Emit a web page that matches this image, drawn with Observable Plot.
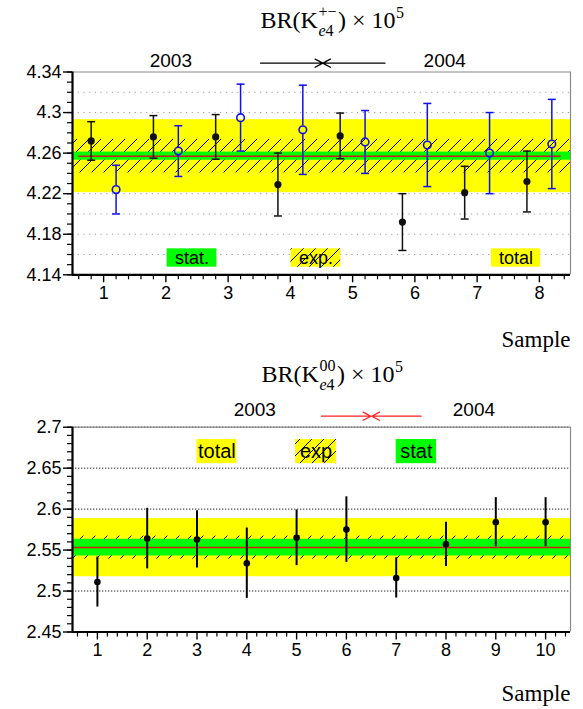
<!DOCTYPE html>
<html><head><meta charset="utf-8">
<script src="https://cdn.jsdelivr.net/npm/d3@7"></script>
<script src="https://cdn.jsdelivr.net/npm/@observablehq/plot@0.6"></script>
<style>
body{margin:0;background:#fff;}
#wrap{width:583px;}
#wrap svg{display:block;overflow:visible;}
</style></head><body><div id="wrap"></div>
<script>
// ---------- DATA: BR(K+- e4) ----------
const samplesPM = [1, 2, 3, 4, 5, 6, 7, 8];
const brPM2003 = [4.272, 4.276, 4.276, 4.229, 4.277, 4.192, 4.221, 4.232];
const errPM2003 = [0.019, 0.021, 0.022, 0.031, 0.0225, 0.028, 0.026, 0.030];
const brPM2004 = [4.224, 4.262, 4.295, 4.283, 4.271, 4.268, 4.260, 4.269];
const errPM2004 = [0.024, 0.025, 0.033, 0.044, 0.031, 0.041, 0.040, 0.044];
const meanPM = 4.257;
const halfStatPM = 0.004, halfExpPM = 0.0165, halfTotPM = 0.036;
const fitRangePM = [0.6, 8.35];
const yTicksPM = [4.14, 4.18, 4.22, 4.26, 4.30, 4.34];
const yTickLabelsPM = ["4.14", "4.18", "4.22", "4.26", "4.3", "4.34"];
const gridPM = [4.16, 4.18, 4.20, 4.22, 4.24, 4.26, 4.28, 4.30, 4.32];
const legendPM = [
  {label: "stat.", kind: "stat", x1: 2.02, x2: 2.82, y1: 4.1475, y2: 4.1656},
  {label: "exp.", kind: "exp", x1: 4.01, x2: 4.81, y1: 4.1475, y2: 4.1656},
  {label: "total", kind: "total", x1: 7.23, x2: 8.02, y1: 4.1475, y2: 4.1656}
];
const yearsPM = [{text: "2003", x: 2.08, y: 4.3513}, {text: "2004", x: 6.48, y: 4.3513}];
const arrowsPM = [{x1: 3.52, x2: 4.52, y: 4.3487}, {x1: 5.52, x2: 4.52, y: 4.3487}];

// ---------- DATA: BR(K00 e4) ----------
const samples00 = [1, 2, 3, 4, 5, 6, 7, 8, 9, 10];
const br00 = [2.511, 2.564, 2.563, 2.534, 2.565, 2.575, 2.516, 2.557, 2.584, 2.584];
const err00 = [0.0305, 0.037, 0.035, 0.043, 0.034, 0.040, 0.0245, 0.027, 0.030, 0.030];
const mean00 = 2.553;
const halfStat00 = 0.0102, halfExp00 = 0.014, halfTot00 = 0.0355;
const yTicks00 = [2.45, 2.5, 2.55, 2.6, 2.65, 2.7];
const yTickLabels00 = ["2.45", "2.5", "2.55", "2.6", "2.65", "2.7"];
const grid00 = [2.5, 2.55, 2.6, 2.65, 2.7];
const legend00 = [
  {label: "total", kind: "total", x1: 3.0, x2: 3.8, y1: 2.6555, y2: 2.685},
  {label: "exp", kind: "exp", x1: 4.98, x2: 5.8, y1: 2.6555, y2: 2.685},
  {label: "stat", kind: "stat", x1: 7.0, x2: 7.81, y1: 2.6555, y2: 2.685}
];
const years00 = [{text: "2003", x: 4.16, y: 2.7212}, {text: "2004", x: 8.56, y: 2.7212}];
const arrows00 = [{x1: 5.50, x2: 6.49, y: 2.7134}, {x1: 7.50, x2: 6.51, y: 2.7134}];

// ---------- helpers ----------
const SANS = "'Liberation Sans', Arial, Helvetica, sans-serif";
const SERIF = "'Liberation Serif', 'Times New Roman', serif";
const capSymbol = {draw(ctx) { ctx.moveTo(-4, 0); ctx.lineTo(4, 0); }};
const kindFill = {stat: "#00ff00", exp: "#ffff00", total: "#ffff00"};

function addHatch(svg, id) {
  const defs = d3.select(svg).insert("defs", ":first-child");
  const p = defs.append("pattern").attr("id", id).attr("patternUnits", "userSpaceOnUse")
    .attr("width", 12).attr("height", 12);
  p.append("path").attr("d", "M-3,3 L3,-3 M0,12 L12,0 M9,15 L15,9")
    .attr("stroke", "black").attr("stroke-width", 1).attr("fill", "none");
}

function mathTitle(svg, cx, base, sup, sub) {
  const g = d3.select(svg).append("g").attr("font-family", SERIF).attr("fill", "black")
    .attr("text-anchor", "start");
  let x = 0;
  const put = (txt, dx, dy, size) => {
    const t = g.append("text").attr("text-anchor", "start").attr("x", x + dx).attr("y", base + dy)
      .attr("font-size", size).text(txt);
    return t.node().getComputedTextLength();
  };
  x += put("BR(K", 0, 0, 24);
  const wSup = put(sup, 0.5, -11, 16);
  const t = g.append("text").attr("text-anchor", "start").attr("x", x + 0.5).attr("y", base + 8).attr("font-size", 16);
  t.append("tspan").attr("font-style", "italic").text(sub[0]);
  t.append("tspan").text(sub.slice(1));
  const wSub = t.node().getComputedTextLength();
  x += Math.max(wSup, wSub) + 2;
  x += put(") \u00d7 10", 0, 0, 24);
  x += put("5", 0.5, -10, 16);
  g.attr("transform", `translate(${cx - x / 2},0)`);
}

function panel(o) {
  const [xa, xb] = o.xDomain, [ya, yb] = o.yDomain;
  const marks = [];
  marks.push(Plot.ruleY(o.grid, {stroke: o.gridColor, strokeDasharray: o.gridDash, strokeWidth: 1}));
  const band = [{mean: o.mean, stat: o.stat, exp: o.exp, tot: o.tot}];
  marks.push(Plot.rect(band, {x1: xa, x2: xb, y1: d => d.mean - d.tot, y2: d => d.mean + d.tot, fill: "#ffff00"}));
  marks.push(Plot.rect(band, {x1: xa, x2: xb, y1: d => d.mean - d.exp, y2: d => d.mean + d.exp, fill: `url(#${o.hatchId})`}));
  marks.push(Plot.rect(band, {x1: xa, x2: xb, y1: d => d.mean - d.stat, y2: d => d.mean + d.stat, fill: "#00ff00"}));
  marks.push(Plot.ruleY(band, {y: "mean", x1: o.fitRange[0], x2: o.fitRange[1], stroke: "#d41a1a", strokeWidth: 1.5}));
  // legend boxes
  marks.push(Plot.rect(o.legend, {x1: "x1", x2: "x2", y1: "y1", y2: "y2", fill: d => kindFill[d.kind]}));
  marks.push(Plot.rect(o.legend.filter(d => d.kind === "exp"), {x1: "x1", x2: "x2", y1: "y1", y2: "y2", fill: `url(#${o.hatchId})`}));
  marks.push(Plot.text(o.legend, {x: d => (d.x1 + d.x2) / 2, y: d => (d.y1 + d.y2) / 2, text: "label", fontSize: o.legendFont, fill: "black"}));
  // series
  o.series.forEach(s => {
    const data = s.x.map((v, i) => ({x: v + s.dx, y: s.y[i], e: s.e[i]}));
    if (s.open) {
      marks.push(Plot.ruleX(data, {x: "x", y1: d => d.y + d.e, y2: "y", insetBottom: s.r, stroke: s.color, strokeWidth: s.sw}));
      marks.push(Plot.ruleX(data, {x: "x", y1: "y", y2: d => d.y - d.e, insetTop: s.r, stroke: s.color, strokeWidth: s.sw}));
    } else {
      marks.push(Plot.ruleX(data, {x: "x", y1: d => d.y - d.e, y2: d => d.y + d.e, stroke: s.color, strokeWidth: s.sw}));
    }
    if (s.caps) {
      marks.push(Plot.dot(data, {x: "x", y: d => d.y - d.e, symbol: capSymbol, stroke: s.color, fill: "none", strokeWidth: s.sw}));
      marks.push(Plot.dot(data, {x: "x", y: d => d.y + d.e, symbol: capSymbol, stroke: s.color, fill: "none", strokeWidth: s.sw}));
    }
    if (s.open) marks.push(Plot.dot(data, {x: "x", y: "y", r: s.r, stroke: s.color, fill: "none", strokeWidth: 1.6}));
    else marks.push(Plot.dot(data, {x: "x", y: "y", r: s.r, fill: s.color, stroke: "none"}));
  });
  // year labels and arrows
  marks.push(Plot.text(o.years, {x: "x", y: "y", text: "text", fontSize: 19, fill: "black"}));
  marks.push(Plot.arrow(o.arrows, {x1: "x1", x2: "x2", y1: "y", y2: "y", stroke: o.arrowColor, strokeWidth: 1.3, headLength: 10, headAngle: 56}));
  // frame
  marks.push(Plot.ruleY([yb], {stroke: "#8a8a8a", strokeWidth: 1.2}));
  marks.push(Plot.ruleX([xb], {stroke: "#8a8a8a", strokeWidth: 1.2}));
  marks.push(Plot.ruleX([xa], {stroke: "black", strokeWidth: 2.2}));
  marks.push(Plot.ruleY([ya], {stroke: "black", strokeWidth: 2.2}));
  // axes
  marks.push(Plot.axisY({ticks: o.yMinor, tickSize: 5, tickFormat: () => "", strokeWidth: 1.2, label: null}));
  marks.push(Plot.axisY({ticks: o.yTicks, tickSize: 9, tickPadding: 2, strokeWidth: 1.4, fontSize: 18, label: null,
    tickFormat: d => o.yLabels[o.yTicks.findIndex(t => Math.abs(t - d) < 1e-9)]}));
  marks.push(Plot.axisX({ticks: o.xMinor, tickSize: 5, tickFormat: () => "", strokeWidth: 1.2, label: null}));
  marks.push(Plot.axisX({ticks: o.xTicks, tickSize: 8, tickPadding: 3, strokeWidth: 1.4, fontSize: 18, label: null}));
  marks.push(Plot.text(["Sample"], {frameAnchor: "bottom-right", dy: o.sampleDy, textAnchor: "end", lineAnchor: "bottom",
    fontFamily: SERIF, fontSize: 23, fill: "black"}));

  const svg = Plot.plot({
    width: 583, height: o.height,
    marginLeft: 72, marginRight: 13, marginTop: o.marginTop, marginBottom: o.marginBottom,
    x: {domain: o.xDomain}, y: {domain: o.yDomain},
    style: {fontFamily: SANS, fontSize: "18px", background: "white", color: "black", overflow: "visible"},
    marks
  });
  addHatch(svg, o.hatchId);
  return svg;
}

const wrap = document.getElementById("wrap");
const minorX = n => d3.range(3, 5 * n + 3).map(k => k / 5).filter(v => Math.abs(v - Math.round(v)) > 1e-9);

const svg1 = panel({
  height: 355, marginTop: 71.5, marginBottom: 80.7,
  xDomain: [0.5, 8.5], yDomain: [4.14, 4.34],
  xTicks: samplesPM, xMinor: minorX(8),
  yTicks: yTicksPM, yLabels: yTickLabelsPM, yMinor: d3.range(414, 435).map(k => k / 100),
  grid: gridPM, gridColor: "#9a9a9a", gridDash: "1.2,4.5",
  mean: meanPM, stat: halfStatPM, exp: halfExpPM, tot: halfTotPM, fitRange: fitRangePM,
  legend: legendPM, legendFont: 18, years: yearsPM, arrows: arrowsPM, arrowColor: "black",
  hatchId: "hatchA", sampleDy: 72,
  series: [
    {x: samplesPM, y: brPM2003, e: errPM2003, dx: -0.2, color: "#111", r: 3.6, sw: 1.5, caps: true, open: false},
    {x: samplesPM, y: brPM2004, e: errPM2004, dx: 0.2, color: "#1010ee", r: 3.8, sw: 1.5, caps: true, open: true}
  ]
});
wrap.appendChild(svg1);
mathTitle(svg1, 332, 28, "+\u2212", "e4");

const svg2 = panel({
  height: 354, marginTop: 71.7, marginBottom: 77.5,
  xDomain: [0.5, 10.5], yDomain: [2.45, 2.7],
  xTicks: samples00, xMinor: minorX(10),
  yTicks: yTicks00, yLabels: yTickLabels00, yMinor: d3.range(245, 271).map(k => k / 100),
  grid: grid00, gridColor: "#222", gridDash: "1.3,1.7",
  mean: mean00, stat: halfStat00, exp: halfExp00, tot: halfTot00, fitRange: [0.5, 10.5],
  legend: legend00, legendFont: 20, years: years00, arrows: arrows00, arrowColor: "#ff2020",
  hatchId: "hatchB", sampleDy: 69,
  series: [
    {x: samples00, y: br00, e: err00, dx: 0, color: "#000", r: 3.3, sw: 2, caps: false, open: false}
  ]
});
wrap.appendChild(svg2);
mathTitle(svg2, 332, 27, "00", "e4");
</script>
</body></html>
